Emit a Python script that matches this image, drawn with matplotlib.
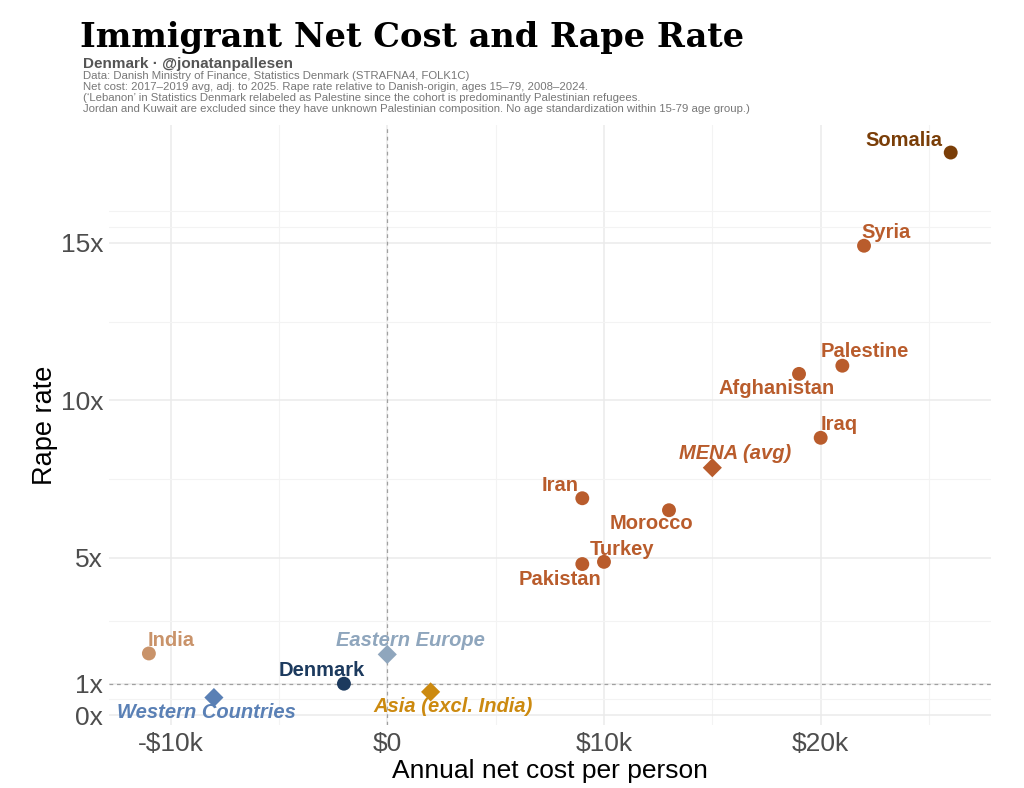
import matplotlib
matplotlib.use("Agg")
import matplotlib.pyplot as plt
from matplotlib.ticker import FixedLocator

# ---------------- data ----------------
countries = ["Somalia", "Syria", "Palestine", "Afghanistan", "Iraq", "MENA (avg)",
             "Iran", "Morocco", "Turkey", "Pakistan", "India", "Eastern Europe",
             "Denmark", "Western Countries", "Asia (excl. India)"]
net_cost = [26000, 22000, 21000, 19000, 20000, 15000,
            9000, 13000, 10000, 9000, -11000, 0,
            -2000, -8000, 2000]
rape_rate = [17.87, 14.91, 11.10, 10.84, 8.81, 7.86,
             6.89, 6.51, 4.87, 4.80, 1.96, 1.93,
             1.00, 0.56, 0.74]
is_group = [False, False, False, False, False, True,
            False, False, False, False, False, True,
            False, True, True]

x_breaks = [-10000, 0, 10000, 20000]
x_labels = ["-$10k", "$0", "$10k", "$20k"]
x_minor = [-5000, 5000, 15000, 25000]
y_breaks = [0, 1, 5, 10, 15]
y_labels = ["0x", "1x", "5x", "10x", "15x"]
y_minor = [0.5, 3, 7.5, 12.5, 15.5, 16]

# ---------------- styles ----------------
ORANGE = "#B95C2C"
colors = {"Somalia": "#7A3E08", "India": "#C9936A", "Eastern Europe": "#8FA6BD",
          "Denmark": "#1C3A5E", "Western Countries": "#5A80B5",
          "Asia (excl. India)": "#CC8A10"}
# label offsets in pixels (dx, dy) and horizontal alignment
label_offsets = {
    "Somalia": (-8, 12, "right"), "Syria": (22, 13, "center"),
    "Palestine": (22, 14, "center"), "Afghanistan": (-22, -15, "center"),
    "Iraq": (19, 13, "center"), "MENA (avg)": (23, 14, "center"),
    "Iran": (-22, 13, "center"), "Morocco": (-18, -13, "center"),
    "Turkey": (18, 12, "center"), "Pakistan": (-22, -15, "center"),
    "India": (22, 13, "center"), "Eastern Europe": (23, 14, "center"),
    "Denmark": (-22, 13, "center"), "Western Countries": (-7, -15, "center"),
    "Asia (excl. India)": (22, -15, "center"),
}

SANS = ["Liberation Sans", "DejaVu Sans"]
plt.rcParams["font.family"] = SANS

fig = plt.figure(figsize=(10.24, 7.88), dpi=100)
fig.patch.set_facecolor("white")
ax = fig.add_axes([108.8 / 1024, 1 - 724.8 / 788, (990.8 - 108.8) / 1024, (724.8 - 125.3) / 788])
ax.set_facecolor("white")
ax.margins(0.05)

for c, x, y, g in zip(countries, net_cost, rape_rate, is_group):
    col = colors.get(c, ORANGE)
    ax.scatter([x], [y], s=100 if not g else 95, marker="D" if g else "o",
               color=col, edgecolors="none", zorder=4)
    dx, dy, ha = label_offsets[c]
    ax.annotate(c, (x, y), xytext=(dx, dy), textcoords="offset pixels",
                ha=ha, va="center", color=col, fontsize=14.5, fontweight="bold",
                fontstyle="italic" if g else "normal", zorder=5)

ax.autoscale_view()
ax.axvline(0, color="#A0A0A0", lw=0.9, ls=(0, (3, 3)), zorder=2)
ax.axhline(1, color="#A0A0A0", lw=0.9, ls=(0, (3, 3)), zorder=2)

ax.xaxis.set_major_locator(FixedLocator(x_breaks))
ax.set_xticklabels(x_labels)
ax.xaxis.set_minor_locator(FixedLocator(x_minor))
ax.yaxis.set_major_locator(FixedLocator(y_breaks))
ax.set_yticklabels(y_labels)
ax.yaxis.set_minor_locator(FixedLocator(y_minor))
ax.grid(True, which="major", color="#EBEBEB", lw=1.1, zorder=0)
ax.grid(True, which="minor", color="#F3F3F3", lw=0.8, zorder=0)
ax.set_axisbelow(True)
ax.tick_params(which="both", length=0)
ax.tick_params(axis="both", labelsize=19, labelcolor="#4D4D4D")
ax.tick_params(axis="x", pad=5)
ax.tick_params(axis="y", pad=4)
for s in ax.spines.values():
    s.set_visible(False)

ax.set_xlabel("Annual net cost per person", fontsize=19, color="black", labelpad=2)
ax.set_ylabel("Rape rate", fontsize=19.5, color="black", labelpad=2)

fig.text(80 / 1024, 1 - 47 / 788, "Immigrant Net Cost and Rape Rate",
         family=["DejaVu Serif"], fontweight="bold", fontsize=24.2, color="black",
         ha="left", va="baseline")
fig.text(83 / 1024, 1 - 68 / 788, "Denmark \u00b7 @jonatanpallesen", fontsize=11,
         fontweight="bold", color="#555555", ha="left", va="baseline")
caption = ("Data: Danish Ministry of Finance, Statistics Denmark (STRAFNA4, FOLK1C)\n"
           "Net cost: 2017\u20132019 avg, adj. to 2025. Rape rate relative to Danish-origin, ages 15\u201379, 2008\u20132024.\n"
           "(\u2018Lebanon\u2019 in Statistics Denmark relabeled as Palestine since the cohort is predominantly Palestinian refugees.\n"
           "Jordan and Kuwait are excluded since they have unknown Palestinian composition. No age standardization within 15-79 age group.)")
fig.text(83 / 1024, 1 - 71 / 788, caption, fontsize=8.2, color="#777777",
         ha="left", va="top", linespacing=1.12)

fig.savefig("out.png", dpi=100, facecolor="white")
